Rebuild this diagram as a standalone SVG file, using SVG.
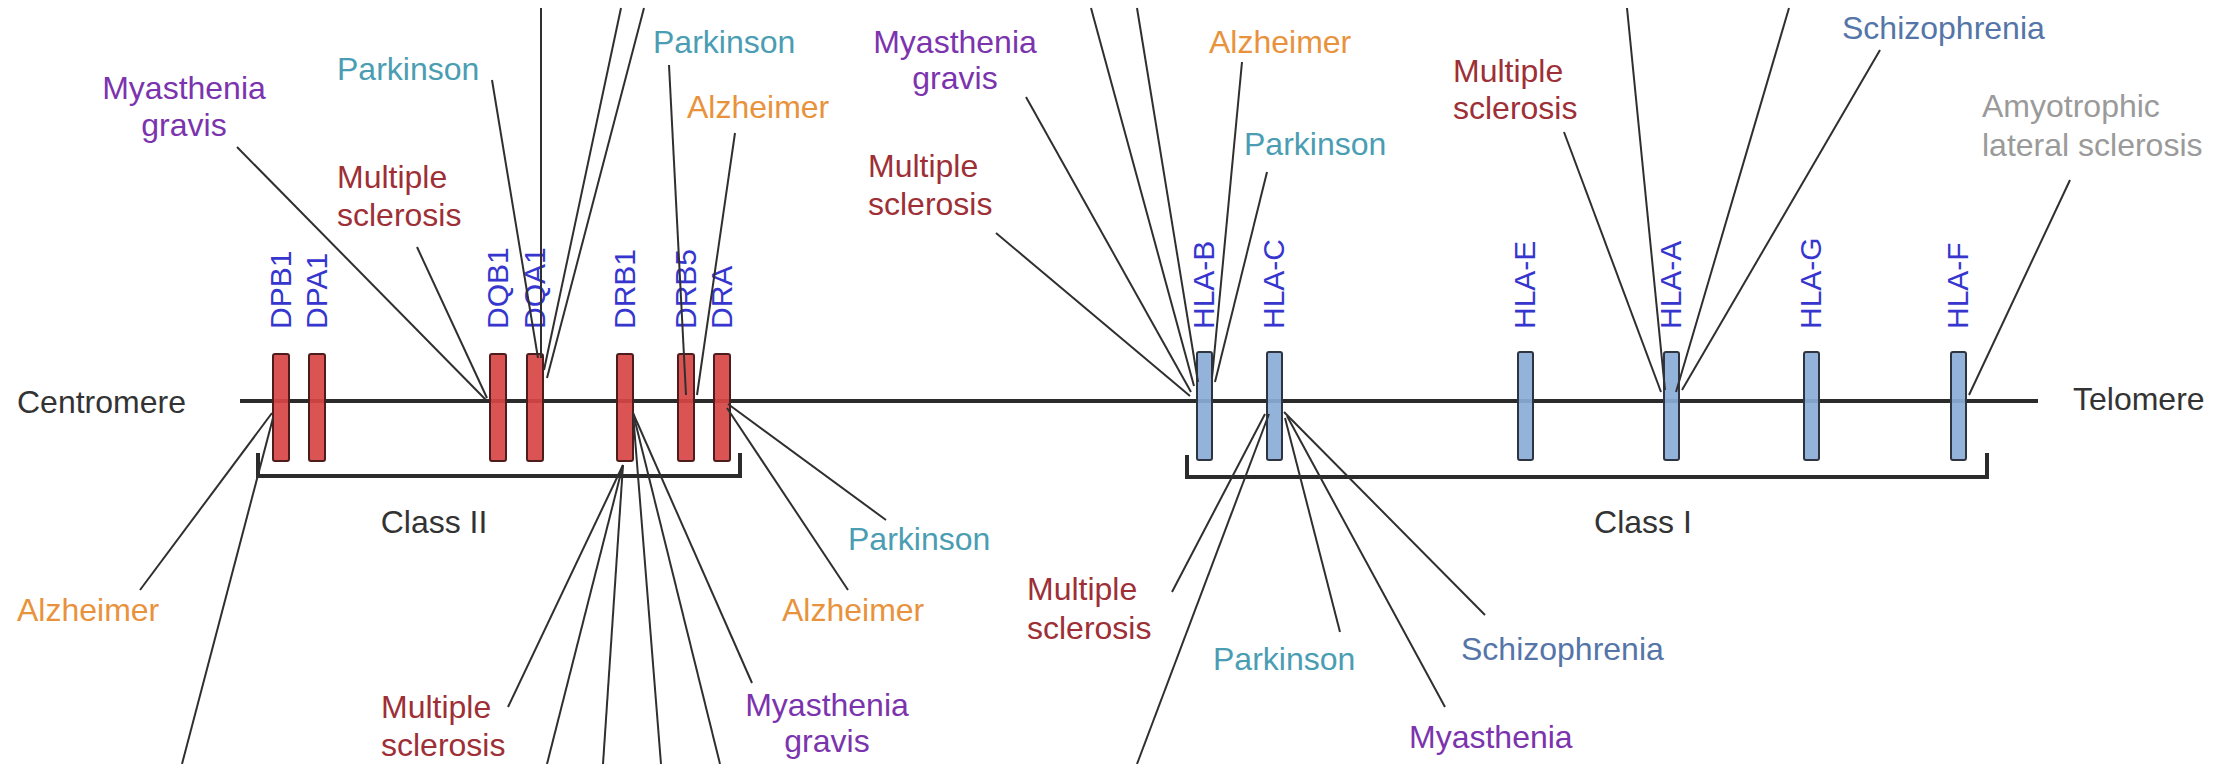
<svg xmlns="http://www.w3.org/2000/svg" width="2229" height="764" viewBox="0 0 2229 764">
<style>
  text { font-family: "Liberation Sans", Arial, Helvetica, sans-serif; font-size: 32px; }
  .blk { fill: #333333; }
  .gene { fill: #3636cf; font-size: 30px; }
  .mg { fill: #7b34ad; }
  .ms { fill: #9e2f36; }
  .az { fill: #e8923c; }
  .pk { fill: #4a9db2; }
  .sz { fill: #5575a8; }
  .als { fill: #9a9a9a; }
  .mid { text-anchor: middle; }
  .bar2 { fill: #d84545; fill-opacity: 0.92; stroke: #4d1c1c; stroke-width: 2; }
  .bar1 { fill: #8badd8; fill-opacity: 0.92; stroke: #2e3440; stroke-width: 2; }
  .axis { stroke: #2b2b2b; stroke-width: 4; fill: none; }
  .conn line { stroke: #2f2f2f; stroke-width: 2; }
</style>
<rect width="2229" height="764" fill="#ffffff"/>

<g id="backbone">
  <line class="axis" x1="240" y1="401" x2="2038" y2="401"/>
  <text class="blk" x="17" y="413">Centromere</text>
  <text class="blk" x="2073" y="410">Telomere</text>
</g>

<g id="class-II">
  <path class="axis" d="M258 453 V476 H740 V453"/>
  <text class="blk mid" x="434" y="533">Class II</text>
</g>
<g id="class-I">
  <path class="axis" d="M1187 455 V477 H1987 V453"/>
  <text class="blk mid" x="1643" y="533">Class I</text>
</g>

<g id="gene-DPB1"><rect class="bar2" x="273" y="354" width="16" height="107" rx="2"/><text class="gene" transform="translate(291,329) rotate(-90)">DPB1</text></g>
<g id="gene-DPA1"><rect class="bar2" x="309" y="354" width="16" height="107" rx="2"/><text class="gene" transform="translate(327,329) rotate(-90)">DPA1</text></g>
<g id="gene-DQB1"><rect class="bar2" x="490" y="354" width="16" height="107" rx="2"/><text class="gene" transform="translate(508,329) rotate(-90)">DQB1</text></g>
<g id="gene-DQA1"><rect class="bar2" x="527" y="354" width="16" height="107" rx="2"/><text class="gene" transform="translate(545,329) rotate(-90)">DQA1</text></g>
<g id="gene-DRB1"><rect class="bar2" x="617" y="354" width="16" height="107" rx="2"/><text class="gene" transform="translate(635,329) rotate(-90)">DRB1</text></g>
<g id="gene-DRB5"><rect class="bar2" x="678" y="354" width="16" height="107" rx="2"/><text class="gene" transform="translate(696,329) rotate(-90)">DRB5</text></g>
<g id="gene-DRA"><rect class="bar2" x="714" y="354" width="16" height="107" rx="2"/><text class="gene" transform="translate(732,329) rotate(-90)">DRA</text></g>

<g id="gene-HLA-B"><rect class="bar1" x="1197" y="352" width="15" height="108" rx="2"/><text class="gene" transform="translate(1214,329) rotate(-90)">HLA-B</text></g>
<g id="gene-HLA-C"><rect class="bar1" x="1267" y="352" width="15" height="108" rx="2"/><text class="gene" transform="translate(1284,329) rotate(-90)">HLA-C</text></g>
<g id="gene-HLA-E"><rect class="bar1" x="1518" y="352" width="15" height="108" rx="2"/><text class="gene" transform="translate(1535,329) rotate(-90)">HLA-E</text></g>
<g id="gene-HLA-A"><rect class="bar1" x="1664" y="352" width="15" height="108" rx="2"/><text class="gene" transform="translate(1681,329) rotate(-90)">HLA-A</text></g>
<g id="gene-HLA-G"><rect class="bar1" x="1804" y="352" width="15" height="108" rx="2"/><text class="gene" transform="translate(1821,329) rotate(-90)">HLA-G</text></g>
<g id="gene-HLA-F"><rect class="bar1" x="1951" y="352" width="15" height="108" rx="2"/><text class="gene" transform="translate(1968,329) rotate(-90)">HLA-F</text></g>

<g id="connectors" class="conn">
  <!-- Class II top -->
  <line x1="237" y1="147" x2="486" y2="400"/>
  <line x1="417" y1="247" x2="487" y2="398"/>
  <line x1="492" y1="80" x2="538" y2="358"/>
  <line x1="541" y1="8" x2="541" y2="358"/>
  <line x1="621" y1="8" x2="544" y2="370"/>
  <line x1="644" y1="8" x2="547" y2="378"/>
  <line x1="669" y1="65" x2="686" y2="395"/>
  <line x1="735" y1="133" x2="697" y2="395"/>
  <!-- Class II bottom -->
  <line x1="140" y1="590" x2="272" y2="413"/>
  <line x1="182" y1="764" x2="273" y2="418"/>
  <line x1="508" y1="707" x2="623" y2="465"/>
  <line x1="547" y1="764" x2="623" y2="465"/>
  <line x1="603" y1="764" x2="623" y2="465"/>
  <line x1="661" y1="764" x2="633" y2="413"/>
  <line x1="720" y1="764" x2="633" y2="413"/>
  <line x1="752" y1="683" x2="633" y2="413"/>
  <line x1="886" y1="520" x2="728" y2="404"/>
  <line x1="848" y1="590" x2="727" y2="408"/>
  <!-- HLA-B top -->
  <line x1="996" y1="233" x2="1190" y2="396"/>
  <line x1="1026" y1="97" x2="1191" y2="392"/>
  <line x1="1091" y1="8" x2="1194" y2="386"/>
  <line x1="1137" y1="8" x2="1198" y2="382"/>
  <line x1="1242" y1="62" x2="1212" y2="378"/>
  <line x1="1267" y1="172" x2="1215" y2="382"/>
  <!-- HLA-C bottom -->
  <line x1="1172" y1="592" x2="1265" y2="414"/>
  <line x1="1137" y1="764" x2="1269" y2="414"/>
  <line x1="1340" y1="632" x2="1285" y2="418"/>
  <line x1="1445" y1="707" x2="1287" y2="416"/>
  <line x1="1485" y1="615" x2="1284" y2="412"/>
  <!-- HLA-A top -->
  <line x1="1564" y1="132" x2="1661" y2="392"/>
  <line x1="1627" y1="8" x2="1665" y2="390"/>
  <line x1="1789" y1="8" x2="1676" y2="392"/>
  <line x1="1880" y1="50" x2="1682" y2="390"/>
  <!-- HLA-F -->
  <line x1="2070" y1="180" x2="1969" y2="395"/>
</g>

<!-- Class II disease labels -->
<g id="lbl-mg-dqb1"><text class="mg mid" x="184" y="99">Myasthenia</text><text class="mg mid" x="184" y="136">gravis</text></g>
<g id="lbl-pk-dqa1"><text class="pk" x="337" y="80">Parkinson</text></g>
<g id="lbl-ms-dqb1"><text class="ms" x="337" y="188">Multiple</text><text class="ms" x="337" y="226">sclerosis</text></g>
<g id="lbl-pk-drb5"><text class="pk" x="653" y="53">Parkinson</text></g>
<g id="lbl-az-drb5"><text class="az" x="687" y="118">Alzheimer</text></g>
<g id="lbl-az-dpb1"><text class="az" x="17" y="621">Alzheimer</text></g>
<g id="lbl-ms-drb1"><text class="ms" x="381" y="718">Multiple</text><text class="ms" x="381" y="756">sclerosis</text></g>
<g id="lbl-mg-drb1"><text class="mg mid" x="827" y="716">Myasthenia</text><text class="mg mid" x="827" y="752">gravis</text></g>
<g id="lbl-az-dra"><text class="az" x="782" y="621">Alzheimer</text></g>
<g id="lbl-pk-dra"><text class="pk" x="848" y="550">Parkinson</text></g>

<!-- Class I disease labels -->
<g id="lbl-mg-hlab"><text class="mg mid" x="955" y="53">Myasthenia</text><text class="mg mid" x="955" y="89">gravis</text></g>
<g id="lbl-ms-hlab"><text class="ms" x="868" y="177">Multiple</text><text class="ms" x="868" y="215">sclerosis</text></g>
<g id="lbl-az-hlab"><text class="az" x="1209" y="53">Alzheimer</text></g>
<g id="lbl-pk-hlab"><text class="pk" x="1244" y="155">Parkinson</text></g>
<g id="lbl-ms-hlaa"><text class="ms" x="1453" y="82">Multiple</text><text class="ms" x="1453" y="119">sclerosis</text></g>
<g id="lbl-sz-hlaa"><text class="sz" x="1842" y="39">Schizophrenia</text></g>
<g id="lbl-als-hlaf"><text class="als" x="1982" y="117">Amyotrophic</text><text class="als" x="1982" y="156">lateral sclerosis</text></g>
<g id="lbl-ms-hlac"><text class="ms" x="1027" y="600">Multiple</text><text class="ms" x="1027" y="639">sclerosis</text></g>
<g id="lbl-pk-hlac"><text class="pk" x="1213" y="670">Parkinson</text></g>
<g id="lbl-sz-hlac"><text class="sz" x="1461" y="660">Schizophrenia</text></g>
<g id="lbl-mg-hlac"><text class="mg" x="1409" y="748">Myasthenia</text></g>
</svg>
